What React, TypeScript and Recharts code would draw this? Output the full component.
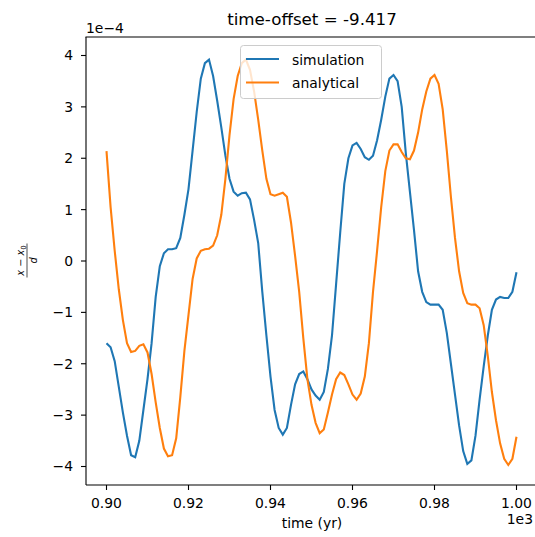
import React from "react";
import { LineChart, Line, XAxis, YAxis } from "recharts";

// time (yr), 900..1000
const years = [
  900, 901, 902, 903, 904, 905, 906, 907, 908, 909, 910, 911, 912, 913, 914, 915, 916, 917, 918, 919,
  920, 921, 922, 923, 924, 925, 926, 927, 928, 929, 930, 931, 932, 933, 934, 935, 936, 937, 938, 939,
  940, 941, 942, 943, 944, 945, 946, 947, 948, 949, 950, 951, 952, 953, 954, 955, 956, 957, 958, 959,
  960, 961, 962, 963, 964, 965, 966, 967, 968, 969, 970, 971, 972, 973, 974, 975, 976, 977, 978, 979,
  980, 981, 982, 983, 984, 985, 986, 987, 988, 989, 990, 991, 992, 993, 994, 995, 996, 997, 998, 999,
  1000,
];

// (x - x0)/d in units of 1e-4
const simulation = [
  -1.6, -1.68, -1.95, -2.45, -2.95, -3.4, -3.78, -3.82, -3.5, -2.9, -2.3, -1.6, -0.7, -0.1, 0.15, 0.23, 0.23, 0.25, 0.45, 0.9,
  1.4, 2.15, 2.9, 3.55, 3.85, 3.92, 3.6, 3.12, 2.6, 2.05, 1.6, 1.35, 1.27, 1.32, 1.33, 1.2, 0.8, 0.35, -0.6, -1.45,
  -2.25, -2.9, -3.25, -3.38, -3.25, -2.8, -2.4, -2.2, -2.15, -2.3, -2.5, -2.62, -2.7, -2.55, -2.1, -1.45, -0.45, 0.55, 1.5, 2.0,
  2.25, 2.3, 2.18, 2.02, 1.97, 2.05, 2.35, 2.75, 3.2, 3.55, 3.62, 3.5, 3.0, 2.1, 1.35, 0.6, -0.2, -0.6, -0.8, -0.85,
  -0.85, -0.85, -0.95, -1.4, -2.0, -2.6, -3.2, -3.7, -3.95, -3.88, -3.4, -2.7, -2.05, -1.45, -0.95, -0.75, -0.7, -0.72, -0.72, -0.6,
  -0.22,
];

const analytical = [
  2.14, 1.05, 0.2, -0.55, -1.15, -1.6, -1.77, -1.75, -1.65, -1.62, -1.78, -2.2, -2.75, -3.25, -3.65, -3.8, -3.78, -3.45, -2.65, -1.75,
  -1.05, -0.35, 0.05, 0.2, 0.23, 0.24, 0.3, 0.5, 0.9, 1.6, 2.45, 3.15, 3.6, 3.85, 3.92, 3.72, 3.3, 2.75, 2.15, 1.6,
  1.3, 1.27, 1.3, 1.33, 1.25, 0.75, 0.1, -0.6, -1.5, -2.3, -2.8, -3.15, -3.35, -3.28, -2.95, -2.6, -2.3, -2.17, -2.22, -2.4,
  -2.6, -2.7, -2.58, -2.25, -1.6, -0.6, 0.2, 1.05, 1.75, 2.15, 2.27, 2.27, 2.12, 2.0, 1.98, 2.15, 2.5, 2.95, 3.3, 3.55,
  3.62, 3.45, 2.95, 2.15, 1.25, 0.45, -0.2, -0.62, -0.82, -0.85, -0.85, -0.92, -1.25, -1.85, -2.55, -3.1, -3.55, -3.85, -3.97, -3.85,
  -3.42,
];

const xTicks = [900, 920, 940, 960, 980, 1000];
const yTicks = [-4, -3, -2, -1, 0, 1, 2, 3, 4];

const data = years.map((t, i) => ({ t, sim: simulation[i], ana: analytical[i] }));

const FONT = "'DejaVu Sans', sans-serif";
const BLUE = "#1f77b4";
const ORANGE = "#ff7f0e";

const fmtY = (v: number) => (v < 0 ? "\u2212" + Math.abs(v) : String(v));
const fmtX = (v: number) => (v / 1000).toFixed(2);

export default function App() {
  return (
    <div
      style={{
        position: "absolute",
        left: 0,
        top: 0,
        width: 535,
        height: 537,
        overflow: "hidden",
        background: "#fff",
        fontFamily: FONT,
      }}
    >
      <LineChart width={545} height={537} data={data} margin={{ top: 37, right: 8, bottom: 0, left: 0 }}>
        <XAxis
          dataKey="t"
          type="number"
          domain={[895, 1005]}
          allowDataOverflow
          ticks={xTicks}
          tickFormatter={fmtX}
          height={52}
          tickSize={5}
          tickMargin={8.5}
          axisLine={{ stroke: "#000", strokeWidth: 1.1 }}
          tickLine={{ stroke: "#000", strokeWidth: 1.1 }}
          tick={{ fill: "#000", fontSize: 13.9, fontFamily: FONT }}
        />
        <YAxis
          type="number"
          domain={[-4.36, 4.36]}
          allowDataOverflow
          ticks={yTicks}
          tickFormatter={fmtY}
          width={86}
          tickSize={5}
          tickMargin={8}
          axisLine={{ stroke: "#000", strokeWidth: 1.1 }}
          tickLine={{ stroke: "#000", strokeWidth: 1.1 }}
          tick={{ fill: "#000", fontSize: 13.9, fontFamily: FONT }}
        />
        <Line
          dataKey="sim"
          name="simulation"
          type="linear"
          stroke={BLUE}
          strokeWidth={2.1}
          dot={false}
          isAnimationActive={false}
        />
        <Line
          dataKey="ana"
          name="analytical"
          type="linear"
          stroke={ORANGE}
          strokeWidth={2.1}
          dot={false}
          isAnimationActive={false}
        />
      </LineChart>
      <svg
        width={535}
        height={537}
        style={{ position: "absolute", left: 0, top: 0, pointerEvents: "none" }}
        fontFamily={FONT}
      >
        <line x1={85.5} x2={535} y1={37} y2={37} stroke="#000" strokeWidth={1.1} />
        <text x={312} y={25} textAnchor="middle" fontSize={16.7} fill="#000">
          time-offset = -9.417
        </text>
        <text x={86} y={33} fontSize={13.9} fill="#000">
          1e{"\u2212"}4
        </text>
        <text x={533} y={524} textAnchor="end" fontSize={13.9} fill="#000">
          1e3
        </text>
        <text x={312} y={528} textAnchor="middle" fontSize={13.9} fill="#000">
          time (yr)
        </text>
        <g transform="translate(27,260.5) rotate(-90)">
          <text x={0} y={-3} textAnchor="middle" fontSize={9.7} fill="#000">
            <tspan fontStyle="italic">x</tspan>
            <tspan> {"\u2212"} </tspan>
            <tspan fontStyle="italic">x</tspan>
            <tspan fontSize={7} dy={2}>0</tspan>
          </text>
          <line x1={-17} x2={17} y1={0} y2={0} stroke="#000" strokeWidth={0.7} />
          <text x={0} y={9.5} textAnchor="middle" fontSize={9.7} fontStyle="italic" fill="#000">
            d
          </text>
        </g>
        <g>
          <rect
            x={240.5}
            y={45.5}
            width={141}
            height={53}
            rx={3}
            ry={3}
            fill="#fff"
            fillOpacity={0.8}
            stroke="#cccccc"
            strokeWidth={1}
          />
          <line x1={246} x2={279} y1={59} y2={59} stroke={BLUE} strokeWidth={2.1} />
          <line x1={246} x2={279} y1={82.5} y2={82.5} stroke={ORANGE} strokeWidth={2.1} />
          <text x={292} y={64.5} fontSize={13.9} fill="#000">
            simulation
          </text>
          <text x={292} y={88} fontSize={13.9} fill="#000">
            analytical
          </text>
        </g>
      </svg>
    </div>
  );
}
